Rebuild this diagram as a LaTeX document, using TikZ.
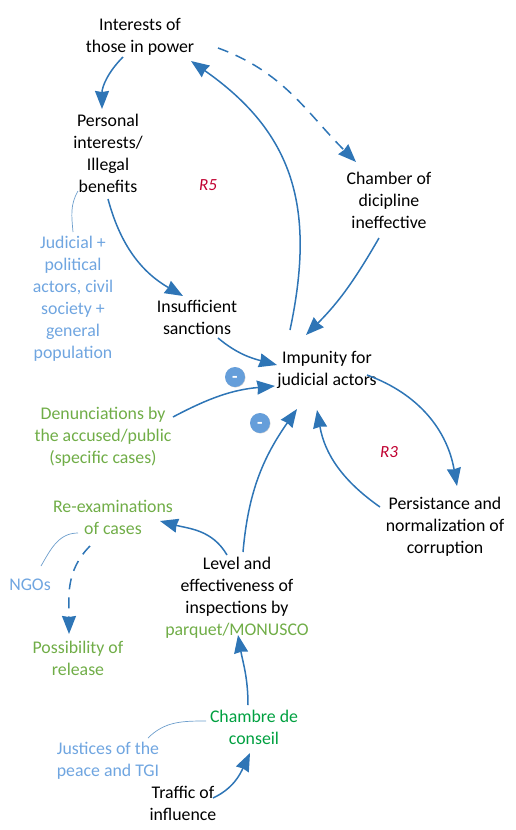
\documentclass[tikz,border=0pt]{standalone}
\usepackage{fontspec}
\setmainfont{Carlito}
\usetikzlibrary{positioning,arrows.meta,shadows}
\definecolor{linkblue}{HTML}{2E75B6}
\definecolor{actorblue}{HTML}{6FA5E0}
\definecolor{softgreen}{HTML}{70AD47}
\definecolor{chambregreen}{HTML}{00A040}
\definecolor{loopred}{HTML}{C00030}
\tikzset{
    factor/.style={
        align=center,
        inner sep=0pt,
        font=\fontsize{17.8}{22}\selectfont
    },
    arrow/.style={
        -{Triangle[length=18pt,width=14pt,inset=1pt]},
        linkblue,
        line width=1.5pt
    },
    dasharrow/.style={
        arrow,
        dash pattern=on 11pt off 8pt
    },
    thinlink/.style={
        linkblue!70,
        line width=0.7pt
    },
    looplabel/.style={
        factor,
        loopred,
        font=\fontsize{17}{20}\selectfont\itshape
    },
    minussign/.style={
        circle,
        fill=actorblue!85!linkblue,
        text=white,
        minimum size=20pt,
        inner sep=0pt,
        text height=10pt,
        text depth=0pt,
        font=\bfseries\fontsize{18}{18}\selectfont,
        drop shadow={shadow xshift=0.5pt,shadow yshift=-0.5pt,opacity=0.35}
    }
}
\begin{document}
\begin{tikzpicture}
    \useasboundingbox (0pt,0pt) rectangle (515pt,-830pt);

    \node[factor] (interests) at (140pt,-37pt) {Interests of\\those in power};
    \node[factor, below of=interests, node distance=116pt, xshift=-32pt] (personal) {Personal\\interests/\\Illegal\\benefits};
    \node[factor, below of=personal, node distance=164pt, xshift=89pt] (insufficient) {Insufficient\\sanctions};
    \node[factor, right of=insufficient, node distance=130pt, yshift=-53pt] (impunity) {Impunity for\\judicial actors};
    \node[factor, above of=impunity, node distance=170pt, xshift=62pt] (chamber) {Chamber of\\dicipline\\ineffective};
    \node[factor, below of=impunity, node distance=157pt, xshift=118pt] (persistance) {Persistance and\\normalization of\\corruption};
    \node[factor, left of=impunity, node distance=224pt, yshift=-67pt, softgreen] (denunciations) {Denunciations by\\the accused/public\\(specific cases)};
    \node[factor, below of=impunity, node distance=228pt, xshift=-90pt] (level) {Level and\\effectiveness of\\inspections by\\\textcolor{softgreen}{parquet/MONUSCO}};
    \node[factor, left of=level, node distance=124pt, yshift=81pt, softgreen] (reexam) {Re-examinations\\of cases};
    \node[factor, below of=reexam, node distance=141pt, xshift=-35pt, softgreen] (possibility) {Possibility of\\release};
    \node[factor, left of=reexam, node distance=83pt, yshift=-68pt, actorblue] (ngos) {NGOs};
    \node[factor, below of=level, node distance=129pt, xshift=17pt, chambregreen] (chambre) {Chambre de\\conseil};
    \node[factor, left of=chambre, node distance=146pt, yshift=-34pt, actorblue] (justices) {Justices of the\\peace and TGI};
    \node[factor, below of=chambre, node distance=76pt, xshift=-71pt] (traffic) {Traffic of\\influence};
    \node[factor, below of=personal, node distance=146pt, xshift=-35pt, actorblue] (judicial) {Judicial +\\political\\actors, civil\\society +\\general\\population};

    \node[looplabel, right of=personal, node distance=100pt, yshift=-32pt] (r5) {R5};
    \node[looplabel, below of=impunity, node distance=82pt, xshift=62pt] (r3) {R3};
    \node[minussign, left of=impunity, node distance=92pt, yshift=-7pt] (minusa) {-};
    \node[minussign, below of=impunity, node distance=53pt, xshift=-67pt] (minusb) {-};

    % upper loop
    \draw[arrow] ([shift={(-17pt,-20pt)}]interests.center) to[out=225,in=90] ([shift={(-6pt,44pt)}]personal.center);
    \draw[arrow] ([shift={(-37pt,40pt)}]impunity.center) to[out=78,in=-35,looseness=1.12] ([shift={(51pt,-24pt)}]interests.center);
    \draw[dasharrow] ([shift={(78pt,-11pt)}]interests.center) to[out=-20,in=135] ([shift={(-33pt,38pt)}]chamber.center);
    \draw[arrow] ([shift={(0pt,-46pt)}]personal.center) to[out=-75,in=150] ([shift={(-14pt,21pt)}]insufficient.center);
    \draw[arrow] ([shift={(-10pt,-38pt)}]chamber.center) to[out=-120,in=45] ([shift={(-21pt,35pt)}]impunity.center);
    \draw[arrow] ([shift={(21pt,-21pt)}]insufficient.center) to[out=-40,in=165] ([shift={(-50pt,5pt)}]impunity.center);

    % lower loop
    \draw[arrow] ([shift={(70pt,20pt)}]denunciations.center) to[out=28,in=185] ([shift={(-52pt,-16pt)}]impunity.center);
    \draw[arrow] ([shift={(6pt,46pt)}]level.center) to[out=85,in=-125] ([shift={(-30pt,-39pt)}]impunity.center);
    \draw[arrow] ([shift={(-65pt,20pt)}]persistance.center) to[out=145,in=-80] ([shift={(-10pt,-40pt)}]impunity.center);
    \draw[arrow] ([shift={(40pt,-5pt)}]impunity.center) to[out=-20,in=100] ([shift={(12pt,41pt)}]persistance.center);
    \draw[arrow] ([shift={(-10pt,43pt)}]level.center) to[out=120,in=-15] ([shift={(47pt,-4pt)}]reexam.center);
    \draw[dasharrow] ([shift={(-23pt,-29pt)}]reexam.center) to[out=-135,in=90] ([shift={(-9pt,24pt)}]possibility.center);
    \draw[arrow] ([shift={(-6pt,22pt)}]chambre.center) to[out=90,in=-80] ([shift={(1pt,-37pt)}]level.center);
    \draw[arrow] ([shift={(30pt,5pt)}]traffic.center) to[out=25,in=-115] ([shift={(-4pt,-26pt)}]chambre.center);

    % thin links to the actors
    \draw[thinlink] ([shift={(-30pt,-38pt)}]personal.center) to[out=-120,in=95] ([shift={(0pt,67pt)}]judicial.center);
    \draw[thinlink] ([shift={(-35pt,-16pt)}]reexam.center) to[out=180,in=60] ([shift={(11pt,19pt)}]ngos.center);
    \draw[thinlink] ([shift={(-48pt,6pt)}]chambre.center) to[out=180,in=45] ([shift={(40pt,23pt)}]justices.center);
\end{tikzpicture}
\end{document}
